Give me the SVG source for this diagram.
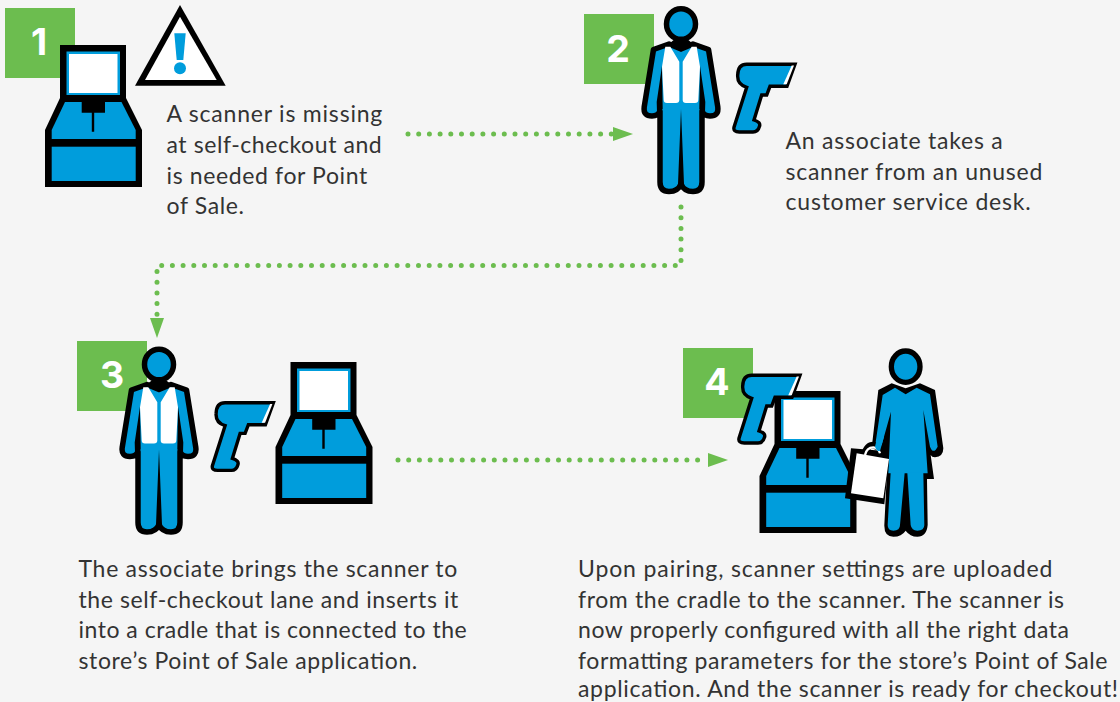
<svg xmlns="http://www.w3.org/2000/svg" width="1120" height="702" viewBox="0 0 1120 702">
<style>
.t{font-family:"Lato","Liberation Sans",sans-serif;font-size:23px;fill:#333}
.n{font-family:"Inter","Liberation Sans",sans-serif;font-size:37.5px;font-weight:700;fill:#fff;text-anchor:middle}
.sq{fill:#6cbd4f}
.b{fill:#009ddc}
.w{fill:#fff}
.k{fill:#000}
.c{fill:none;stroke:#6cbd4f;stroke-width:5;stroke-linecap:round;stroke-dasharray:0 10.7}
</style>
<defs>
<marker id="ah" markerUnits="userSpaceOnUse" markerWidth="20" markerHeight="14" refX="0" refY="7" orient="auto"><path d="M0,0L20,7L0,14Z" fill="#6cbd4f"/></marker>
<g id="kiosk">
<path class="k" d="M15,0H81V53L97,85V142H0V85L15,53Z"/>
<rect class="b" x="21.5" y="6.5" width="53.5" height="43.5"/>
<rect class="w" x="24" y="9" width="48.5" height="39"/>
<path class="b" d="M20,57H76.500L90.700,85V94H6.700V85Z"/>
<rect class="b" x="6.700" y="101.700" width="84" height="34.300"/>
<path class="k" d="M36.700,57H60V67.700H49.200V86.700H46.800V67.700H36.700Z"/>
</g>
<g id="person">
<path class="b" stroke="#000" stroke-width="5.500" stroke-linejoin="round" d="M0,25L-12,20L-27.500,25.500L-36.800,83Q-38,92-29,92Q-23,92-21,87V158Q-21,167.500-12,167.500Q-3,167.500,0,160Q3,167.500,12,167.500Q21,167.500,21,158V87Q23,92,29,92Q38,92,36.800,83L27.500,25.500L12,20Z"/>
<path class="k" d="M-19,42L-24.300,78L-24,88L-18.300,85ZM19,42L24.300,78L24,88L18.300,85ZM0,85L-3,160H3Z"/>
<path class="w" d="M-15.700,22.700H-10.700L-1.700,37.700V76Q-1.700,79-5,79H-14Q-17.300,79-17.300,76L-19,42.700ZM15.700,22.700H10.700L1.700,37.700V76Q1.700,79,5,79H14Q17.300,79,17.300,76L19,42.700Z"/>
<path class="k" d="M-11,19L0,27.500L11,19L0,10Z"/>
<ellipse class="b" stroke="#000" stroke-width="5.500" rx="14.500" ry="15.300"/>
</g>
<g id="scanner">
<path class="b" stroke="#000" stroke-width="3.400" stroke-linejoin="miter" d="M10.700,2H59L51,24H34L30.700,32.700H25.700L18,57.700Q25,60,23.500,64Q22,69.700,17,69.700H3.300Q-3,69.700-2,65L10.700,25Q1,22,1.700,12.700Q2,2,10.700,2Z"/>
<path class="w" d="M55.700,3.300H58L50.700,22H47.300Z"/>
</g>
</defs>
<rect width="1120" height="702" fill="#f5f5f5"/>
<g id="connectors">
<path class="c" marker-end="url(#ah)" d="M408,134H613"/>
<path class="c" marker-end="url(#ah)" d="M681,207V265.500H157V318"/>
<path class="c" marker-end="url(#ah)" d="M398,460H708"/>
</g>
<g id="node-1">
<rect class="sq" x="5" y="8" width="70" height="70"/>
<text class="n" x="39" y="55">1</text>
<use href="#kiosk" x="45" y="45"/>
<path class="k" d="M180,5L225.700,85.700H135Z"/>
<path class="w" d="M180,16.700L216.700,80H145Z"/>
<path class="b" d="M174.300,33.300H185.700L183.300,60H176.700Z"/>
<circle class="b" cx="180" cy="68.300" r="6"/>
<text class="t" x="166.500" y="122" textLength="215.800">A scanner is missing</text>
<text class="t" x="166.500" y="152.700" textLength="215.200">at self-checkout and</text>
<text class="t" x="166.500" y="183.500" textLength="200.800">is needed for Point</text>
<text class="t" x="166.500" y="214" textLength="77.500">of Sale.</text>
</g>
<g id="node-2">
<rect class="sq" x="584" y="14" width="70" height="70"/>
<text class="n" x="618" y="61.500">2</text>
<use href="#person" x="681" y="24"/>
<use href="#scanner" x="736" y="62.300"/>
<text class="t" x="785.500" y="149" textLength="217.200">An associate takes a</text>
<text class="t" x="785.500" y="179.700" textLength="256.800">scanner from an unused</text>
<text class="t" x="785.500" y="210" textLength="245.200">customer service desk.</text>
</g>
<g id="node-3">
<rect class="sq" x="77" y="341" width="70" height="70"/>
<text class="n" x="112" y="388">3</text>
<use href="#person" x="159" y="364.500"/>
<use href="#scanner" x="214.400" y="400.700"/>
<use href="#kiosk" x="275.500" y="362"/>
<text class="t" x="78.500" y="577" textLength="378.800">The associate brings the scanner to</text>
<text class="t" x="78.500" y="607.700" textLength="379.800">the self-checkout lane and inserts it</text>
<text class="t" x="78.500" y="638.300" textLength="388.200">into a cradle that is connected to the</text>
<text class="t" x="78.500" y="669" textLength="338.800">store’s Point of Sale application.</text>
</g>
<g id="node-4">
<rect class="sq" x="683" y="348" width="70" height="70"/>
<text class="n" x="717" y="395">4</text>
<use href="#kiosk" x="759.500" y="391"/>
<use href="#scanner" x="741" y="373.300"/>
<g transform="translate(680,340) scale(.33333)">
<path class="k" d="M595,150L635,130L677,145L720,130L765,150L790,325Q790,350,765,352Q755,352,752,345L762,417H741L743,555Q740,590,712,590Q690,590,677,572Q665,590,640,590Q612,590,613,555L620,415L605,335L575,325Z"/>
<path class="b" d="M608,165L645,143L677,163L710,143L750,163L773,320Q760,345,750,320L730,210L743,400H625L633,215L600,333Q590,335,585,320Z"/>
<path class="b" d="M632,398H674L660,555Q660,572,640,572Q623,572,623,555ZM682,398H730L733,555Q733,572,712,572Q695,572,692,555Z"/>
<path class="k" d="M513,325L605,332L627,357L613,493L495,475Z"/>
<path fill="none" stroke="#000" stroke-width="20" d="M553,345Q560,315,580,315Q600,318,605,335"/>
<path fill="none" stroke="#fff" stroke-width="7" d="M555,345Q560,322,580,322Q596,324,600,340"/>
<path class="w" d="M530,340L627,357L610,475L513,460Z"/>
<path class="b" d="M585,320Q590,335,600,333L612,290H592Z"/>
<ellipse class="b" stroke="#000" stroke-width="16" cx="677" cy="80" rx="43" ry="47"/>
</g>
<text class="t" x="578" y="577" textLength="474.500">Upon pairing, scanner settings are uploaded</text>
<text class="t" x="578" y="607.700" textLength="486">from the cradle to the scanner. The scanner is</text>
<text class="t" x="578" y="638.300" textLength="491">now properly configured with all the right data</text>
<text class="t" x="578" y="669" textLength="529.500">formatting parameters for the store’s Point of Sale</text>
<text class="t" x="578" y="697" textLength="540">application. And the scanner is ready for checkout!</text>
</g>
</svg>
